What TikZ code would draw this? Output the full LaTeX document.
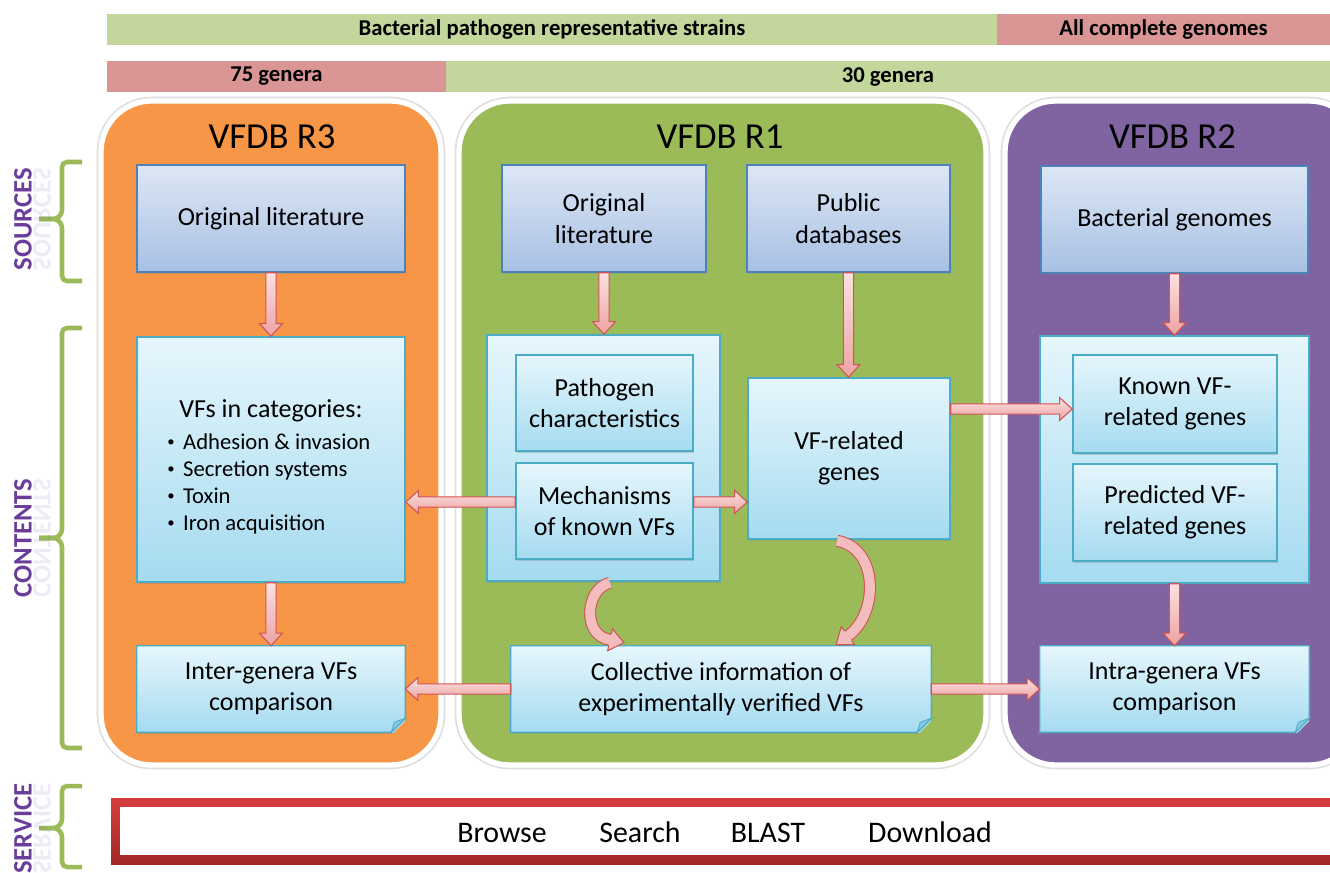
\documentclass[tikz,border=0pt]{standalone}
\usepackage{fontspec}
\setmainfont{Carlito}
\usetikzlibrary{calc,shadows}
\definecolor{panelOrange}{HTML}{F79646}
\definecolor{panelGreen}{HTML}{9BBB59}
\definecolor{panelPurple}{HTML}{8064A2}
\definecolor{barGreen}{HTML}{C3D69B}
\definecolor{barPink}{HTML}{D99694}
\definecolor{srcTop}{HTML}{DDE7F5}
\definecolor{srcBot}{HTML}{A7C0E3}
\definecolor{srcLine}{HTML}{4F81BD}
\definecolor{cntTop}{HTML}{E6F6FC}
\definecolor{cntBot}{HTML}{A5DBF0}
\definecolor{cntLine}{HTML}{4BACC6}
\definecolor{foldC}{HTML}{86C9E4}
\definecolor{arrTop}{HTML}{FCE0E0}
\definecolor{arrBot}{HTML}{EDA3A3}
\definecolor{arrLine}{HTML}{D05454}
\definecolor{arrFill}{HTML}{F3BDBD}
\definecolor{sidePurple}{HTML}{6A3D9A}
\definecolor{braceGreen}{HTML}{9BBB59}
\definecolor{svcTop}{HTML}{D63E3E}
\definecolor{svcBot}{HTML}{A32828}
\newcommand\vfbody{\fontsize{19.5}{23.5}\selectfont}
\newcommand\vftitle{\fontsize{27.5}{30}\selectfont}
\newcommand\vfbar{\fontsize{17}{20}\selectfont\bfseries}
\newcommand\vfside{\fontsize{20}{24}\selectfont\bfseries}
\newcommand\vfsvc{\fontsize{22.4}{27}\selectfont}
\newcommand\vfbullet{\fontsize{17}{20.25}\selectfont}
\newcommand\vfbul{\raisebox{0.2ex}{\fontsize{11}{11}\selectfont\textbullet}\hspace{0.38em}}
\tikzset{
  sz/.style 2 args={minimum width=#1*0.75pt, minimum height=#2*0.75pt},
  bar/.style={rectangle, inner sep=0pt, draw=none, font=\vfbar},
  panel/.style={rectangle, rounded corners=38pt, draw=white, line width=4pt,
    preaction={draw=black!13, line width=6.5pt}},
  ptitle/.style={font=\vftitle, anchor=base, inner sep=0pt},
  srcbox/.style={rectangle, draw=srcLine, line width=1.1pt, top color=srcTop, bottom color=srcBot,
    align=center, font=\vfbody, inner sep=2pt,
    drop shadow={opacity=0.3, shadow xshift=0.8pt, shadow yshift=-1.2pt}},
  cntbox/.style={rectangle, draw=cntLine, line width=1.1pt, top color=cntTop, bottom color=cntBot,
    align=center, font=\vfbody, inner sep=2pt,
    drop shadow={opacity=0.3, shadow xshift=0.8pt, shadow yshift=-1.2pt}},
  notebox/.style={rectangle, draw=none, top color=cntTop, bottom color=cntBot,
    align=center, font=\vfbody, inner sep=2pt,
    drop shadow={opacity=0.3, shadow xshift=0.8pt, shadow yshift=-1.2pt}},
  arrowshape/.style={draw=arrLine, line width=0.8pt, top color=arrTop, bottom color=arrBot, line join=miter},
  brace/.style={draw=braceGreen, line width=3.4pt},
  side/.style={font=\vfside, text=sidePurple, inner sep=0pt},
  svctext/.style={font=\vfsvc, anchor=base, inner sep=0pt},
}
\newcommand\blockarrow[2]{%
  \coordinate (ba) at (#1); \coordinate (bt) at (#2);
  \coordinate (bh) at ($(bt)!9.5pt!(ba)$);
  \draw[arrowshape] ($(ba)!3.9pt!90:(bt)$) -- ($(bh)!3.9pt!90:(bt)$) -- ($(bh)!8.6pt!90:(bt)$)
    -- (bt) -- ($(bh)!8.6pt!-90:(bt)$) -- ($(bh)!3.9pt!-90:(bt)$) -- ($(ba)!3.9pt!-90:(bt)$) -- cycle;}
\newcommand\curvehead[2]{%
  \fill[arrFill] ($(#1)!8.4pt!90:(#2)$) -- (#2) -- ($(#1)!8.4pt!-90:(#2)$) -- cycle;
  \draw[draw=arrLine, line width=0.8pt, line join=miter] ($(#1)!4.5pt!90:(#2)$) -- ($(#1)!8.4pt!90:(#2)$)
    -- (#2) -- ($(#1)!8.4pt!-90:(#2)$) -- ($(#1)!4.5pt!-90:(#2)$);}
\newcommand\notecorner[2]{%
  \fill[#2] ($(#1.south east)+(-14,3)$) -- ($(#1.south east)+(3,3)$) -- ($(#1.south east)+(3,-14)$) -- cycle;
  \draw[cntLine, line width=1.1pt, line join=miter] (#1.south west) -- (#1.north west) -- (#1.north east)
    -- ($(#1.south east)+(0,-14)$) -- ($(#1.south east)+(-14,0)$) -- cycle;
  \filldraw[fill=foldC, draw=cntLine, line width=0.6pt] ($(#1.south east)+(0,-14)$)
    -- ($(#1.south east)+(-14,0)$) -- ($(#1.south east)+(-11,-10)$) -- cycle;}
\newcommand\sidebrace[3]{%
  \draw[brace] (82,#1) -- (67,#1) to[out=180,in=90] (62,#1+5) -- (62,#2-9) to[out=-90,in=0] (53,#2) -- (39,#2);
  \draw[brace] (39,#2) -- (53,#2) to[out=0,in=90] (62,#2+9) -- (62,#3-5) to[out=-90,in=180] (67,#3) -- (82,#3);}
\begin{document}
\begin{tikzpicture}[x=0.75pt,y=-0.75pt]
\useasboundingbox (0,0) rectangle (1330,872);
\clip (0,0) rectangle (1330,872);
\fill[white] (0,0) rectangle (1330,872);

% top bars
\node[bar, fill=barGreen, sz={890}{31}] (barA) at (552,29.5) {Bacterial pathogen representative strains};
\node[bar, fill=barPink, sz={333}{31}] (barB) at (1163.5,29.5) {All complete genomes};
\node[bar, fill=barPink, sz={339}{31}] (barC) at (276.5,76.5) {75 genera};
\node[bar, fill=barGreen, sz={884}{31}] (barD) at (888,76.5) {30 genera};

% panels
\node[panel, fill=panelOrange, sz={340}{664}] (pR3) at (271,433) {};
\node[panel, fill=panelGreen, sz={527}{664}] (pR1) at (722.5,433) {};
\node[panel, fill=panelPurple, sz={355}{664}] (pR2) at (1182.5,433) {};
\node[ptitle] (tR3) at (272,148) {VFDB R3};
\node[ptitle] (tR1) at (720,148) {VFDB R1};
\node[ptitle] (tR2) at (1172.5,148) {VFDB R2};

% VFDB R3
\node[srcbox, sz={268}{107}] (r3lit) at (271,218.5) {Original literature};
\node[cntbox, sz={268}{245}] (r3cat) at (271,459.5) {};
\node[font=\vfbody, anchor=base, inner sep=0pt] (r3cattitle) at (271,417) {VFs in categories:};
\node[font=\vfbullet, align=left, anchor=north west, inner sep=0pt] (r3catlist) at (167,433)
  {\vfbul Adhesion \& invasion\\ \vfbul Secretion systems\\ \vfbul Toxin\\ \vfbul Iron acquisition};
\node[notebox, sz={268}{86}] (r3inter) at (271,689) {Inter-genera VFs\\comparison};
\notecorner{r3inter}{panelOrange}

% VFDB R1
\node[srcbox, sz={204}{107}] (r1lit) at (604,218.5) {Original\\literature};
\node[srcbox, sz={203}{107}] (r1pub) at (848.5,218.5) {Public\\databases};
\node[cntbox, sz={233}{246}] (r1out) at (603.5,458) {};
\node[cntbox, sz={177}{96}] (r1path) at (604.5,403) {Pathogen\\characteristics};
\node[cntbox, sz={177}{96}] (r1mech) at (604.5,511) {Mechanisms\\of known VFs};
\node[cntbox, sz={202}{161}] (r1vf) at (849,458.5) {VF-related\\genes};
\node[notebox, sz={420}{86}] (r1coll) at (721,689) {Collective information of\\experimentally verified VFs};
\notecorner{r1coll}{panelGreen}

% VFDB R2
\node[srcbox, sz={267}{107}] (r2gen) at (1174.5,219.5) {Bacterial genomes};
\node[cntbox, sz={269}{247}] (r2out) at (1174.5,459.5) {};
\node[cntbox, sz={204}{98}] (r2known) at (1175,404) {Known VF-\\related genes};
\node[cntbox, sz={204}{97}] (r2pred) at (1175,512.5) {Predicted VF-\\related genes};
\node[notebox, sz={269}{86}] (r2intra) at (1174.5,689) {Intra-genera VFs\\comparison};
\notecorner{r2intra}{panelPurple}

% straight block arrows
\blockarrow{r3lit.south}{r3cat.north}
\blockarrow{r3cat.south}{r3inter.north}
\blockarrow{r1lit.south}{r1lit.south|-r1out.north}
\blockarrow{r1pub.south}{r1pub.south|-r1vf.north}
\coordinate (m1) at ($(r1mech.west)+(0,-9)$);
\coordinate (m2) at ($(r1mech.east)+(0,-9)$);
\coordinate (k1) at ($(r2known.west)+(0,5)$);
\blockarrow{m1}{r3cat.east|-m1}
\blockarrow{m2}{r1vf.west|-m2}
\blockarrow{r1vf.east|-k1}{k1}
\blockarrow{r1coll.west}{r3inter.east|-r1coll.west}
\blockarrow{r1coll.east}{r2intra.west|-r1coll.east}
\blockarrow{r2gen.south}{r2gen.south|-r2out.north}
\blockarrow{r2out.south}{r2out.south|-r2intra.north}

% curved arrows
\coordinate (c1s) at ($(r1out.south)+(6.5,1)$);
\coordinate (c1h) at ($(r1coll.north)+(-111,-6)$);
\coordinate (c1t) at ($(r1coll.north)+(-97,-3)$);
\draw[arrLine, line width=9pt] (c1s) .. controls +(-25,6) and +(-28,-4) .. (c1h);
\draw[arrFill, line width=7.4pt] (c1s) .. controls +(-25,6) and +(-28,-4) .. (c1h);
\curvehead{c1h}{c1t}
\coordinate (c2s) at ($(r1vf.south)+(-12,1)$);
\coordinate (c2h) at ($(r1coll.north)+(127,-10)$);
\coordinate (c2t) at ($(r1coll.north)+(115,-1)$);
\draw[arrLine, line width=9pt] (c2s) .. controls +(43,8) and +(30,-21) .. (c2h);
\draw[arrFill, line width=7.4pt] (c2s) .. controls +(43,8) and +(30,-21) .. (c2h);
\curvehead{c2h}{c2t}

% side braces and labels
\sidebrace{162}{219}{281}
\sidebrace{328}{538}{748}
\sidebrace{786}{828}{867}
\node[side, rotate=90] (lsrc) at (23,219) {SOURCES};
\node[side, rotate=90, yscale=-1, opacity=0.1] (lsrcr) at (42,219) {SOURCES};
\node[side, rotate=90] (lcnt) at (23,538) {CONTENTS};
\node[side, rotate=90, yscale=-1, opacity=0.1] (lcntr) at (42,538) {CONTENTS};
\node[side, rotate=90] (lsvc) at (23,828.5) {SERVICE};
\node[side, rotate=90, yscale=-1, opacity=0.1] (lsvcr) at (42,828.5) {SERVICE};

% service bar
\shade[top color=svcTop, bottom color=svcBot] (111,798) rectangle (1345,864);
\fill[white] (120,807) rectangle (1340,855);
\node[svctext] (sBrowse) at (502,842) {Browse};
\node[svctext] (sSearch) at (640,842) {Search};
\node[svctext] (sBlast) at (768,842) {BLAST};
\node[svctext] (sDown) at (930,842) {Download};
\end{tikzpicture}
\end{document}
